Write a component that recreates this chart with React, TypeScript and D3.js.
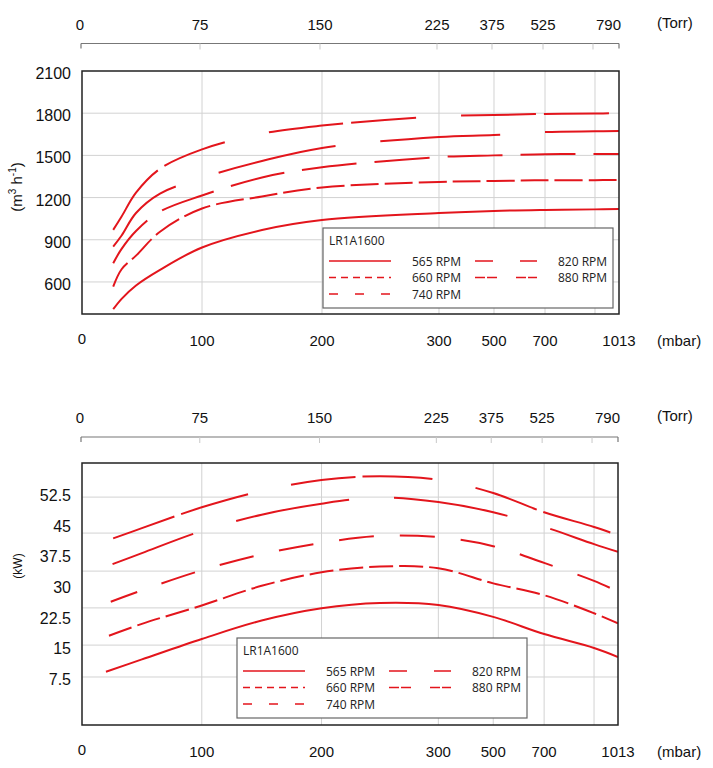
import React from 'react';
import * as d3 from 'd3';

const W = 713;
const H = 768;
const RED = '#e3151c';
const TICK_FONT = '"Liberation Sans", Arial, sans-serif';
const LEGEND_FONT = '"Open Sans", "Noto Sans", sans-serif';

// the pressure axis is compressed above 300 mbar
const mbarBreaks = [0, 100, 200, 300, 500, 700, 900, 1013];
const breakFrac = [0, 0.2235, 0.4469, 0.6648, 0.7672, 0.8622, 0.9553, 1];

const mbarTicks = [0, 100, 200, 300, 500, 700, 1013];
const mbarGrid = [100, 200, 300, 500, 700, 900];
const torrTickMbar = [0, 100, 200, 300, 500, 700, 900];
const torrLabels = [0, 75, 150, 225, 375, 525, 790];

const rpmLabels = ['565 RPM', '660 RPM', '740 RPM', '820 RPM', '880 RPM'];

// pumping speed (m3/h)
const flowMbar = [26, 33, 45, 65, 100, 150, 200, 300, 500, 700, 900, 1013];
const flow565 = [406, 480, 575, 686, 845, 969, 1040, 1090, 1105, 1112, 1116, 1119];
const flow660 = [566, 690, 787, 957, 1122, 1208, 1272, 1311, 1318, 1323, 1324, 1325];
const flow740 = [733, 835, 962, 1100, 1215, 1343, 1415, 1488, 1500, 1508, 1510, 1510];
const flow820 = [851, 930, 1090, 1228, 1340, 1460, 1553, 1631, 1645, 1666, 1671, 1673];
const flow880 = [970, 1065, 1235, 1405, 1543, 1655, 1712, 1778, 1787, 1795, 1798, 1800];
const flowTicks = [600, 900, 1200, 1500, 1800, 2100];
const flowGrid = [600, 900, 1200, 1500, 1800];

// power (kW)
const powerStartMbar = [20, 22.5, 24, 25.5, 26];
const powerMbar = [50, 100, 150, 200, 250, 300, 500, 700, 900, 1013];
const power565 = [8.8, 11.8, 16.8, 21.3, 24.3, 25.6, 25.1, 22.2, 18.0, 14.6, 12.4];
const power660 = [17.6, 20.5, 25.0, 29.8, 33.1, 34.5, 34.1, 30.4, 27.5, 23.1, 20.6];
const power740 = [25.9, 28.7, 33.6, 37.5, 40.3, 42.0, 41.7, 39.5, 35.4, 31.0, 28.4];
const power820 = [35.1, 37.8, 43.2, 47.2, 49.9, 51.4, 50.3, 47.8, 44.2, 40.0, 38.1];
const power880 = [41.4, 43.9, 49.0, 53.0, 55.7, 56.6, 55.7, 52.5, 47.8, 44.2, 42.2];
const powerTicks = [7.5, 15, 22.5, 30, 37.5, 45, 52.5];
const powerGrid = [7.5, 15.3, 24.4, 33.4, 42.7, 51.5];

// dash styles: [565, 660, 740, 820, 880]
const legendDash = [null, '7,5', '9,17', '18,27', '10,2,10,19'];
const flowDash = [null, '28,6', '55,18', '120,45', '75,8,65,45'];
const flowDashOffset = [0, 0, 0, 31, 0];
const powerDash = [null, '24,6', '35,26', '115,45', '65,7,70,44'];
const powerDashOffset = [0, 0, 7, 29, 0];

type Box = { left: number; right: number; top: number; bottom: number; torrY: number };

function Legend({ x, y }: { x: number; y: number }) {
  const rows = [
    { col: 0, row: 0 }, { col: 0, row: 1 }, { col: 0, row: 2 },
    { col: 1, row: 0 }, { col: 1, row: 1 },
  ];
  return (
    <g transform={`translate(${x},${y})`} fontFamily={LEGEND_FONT} fontSize={12} fill="#222">
      <rect width={290} height={80} fill="#fff" stroke="#666" strokeWidth={1.2} />
      <text x={6} y={16.5}>LR1A1600</text>
      {rows.map((r, i) => {
        const lx = 6 + r.col * 146;
        const ly = 33 + r.row * 16.5;
        return (
          <g key={i}>
            <line x1={lx} x2={lx + 62} y1={ly} y2={ly} stroke={RED} strokeWidth={1.6}
              strokeDasharray={legendDash[i] ?? undefined} />
            <text x={lx + 83} y={ly + 4.5}>{rpmLabels[i]}</text>
          </g>
        );
      })}
    </g>
  );
}

function Panel({ box, y, yTicks, yGrid, series, dash, dashOffset, clipId, legendAt, title, titleY, titleSize }: {
  box: Box;
  y: d3.ScaleLinear<number, number>;
  yTicks: number[];
  yGrid: number[];
  series: [number, number][][];
  dash: (string | null)[];
  dashOffset: number[];
  clipId: string;
  legendAt: [number, number];
  title: React.ReactNode;
  titleY: number;
  titleSize: number;
}) {
  const width = box.right - box.left;
  const x = d3.scaleLinear()
    .domain(mbarBreaks)
    .range(breakFrac.map(f => box.left + f * width));
  const line = d3.line<[number, number]>()
    .x(d => x(d[0]))
    .y(d => y(d[1]))
    .curve(d3.curveCatmullRom.alpha(0.5));
  const labelY = box.bottom + 31.5;
  const torrLabelY = box.torrY - 14;

  return (
    <g>
      <defs>
        <clipPath id={clipId}>
          <rect x={box.left} y={box.top} width={width} height={box.bottom - box.top} />
        </clipPath>
      </defs>
      {/* grid */}
      {mbarGrid.map(m => (
        <line key={`gx${m}`} x1={x(m)} x2={x(m)} y1={box.top} y2={box.bottom} stroke="#d2d2d2" strokeWidth={1} />
      ))}
      {yGrid.map(v => (
        <line key={`gy${v}`} x1={box.left} x2={box.right} y1={y(v)} y2={y(v)} stroke="#d2d2d2" strokeWidth={1} />
      ))}
      {/* curves */}
      <g clipPath={`url(#${clipId})`}>
        {series.map((pts, i) => (
          <path key={i} d={line(pts) ?? ''} fill="none" stroke={RED} strokeWidth={2}
            strokeDasharray={dash[i] ?? undefined} strokeDashoffset={dashOffset[i]} />
        ))}
      </g>
      <Legend x={legendAt[0]} y={legendAt[1]} />
      <rect x={box.left} y={box.top} width={width} height={box.bottom - box.top}
        fill="none" stroke="#222" strokeWidth={1.5} />
      {/* y labels */}
      <g fontFamily={TICK_FONT} fontSize={16} fill="#111" textAnchor="end">
        {yTicks.map(v => (
          <text key={v} x={box.left - 11} y={y(v)} dy="0.5em">{v}</text>
        ))}
      </g>
      <text transform={`translate(22,${titleY}) rotate(-90)`}
        fontFamily={TICK_FONT} fontSize={titleSize} fill="#111" textAnchor="middle">{title}</text>
      {/* bottom mbar labels */}
      <g fontFamily={TICK_FONT} fontSize={15} fill="#111" textAnchor="middle">
        {mbarTicks.map(m => (
          <text key={m} x={x(m)} y={m === 0 ? labelY - 2 : labelY}>{m}</text>
        ))}
      </g>
      <text x={657} y={labelY} fontFamily={TICK_FONT} fontSize={15} fill="#111">(mbar)</text>
      {/* top torr axis */}
      <line x1={box.left - 1} x2={x(1013)} y1={box.torrY} y2={box.torrY} stroke="#777" strokeWidth={1.2} />
      {[0, 1013].map(m => (
        <line key={`te${m}`} x1={x(m) - (m === 0 ? 1 : 0)} x2={x(m) - (m === 0 ? 1 : 0)}
          y1={box.torrY} y2={box.torrY + 5} stroke="#777" strokeWidth={1.2} />
      ))}
      {torrTickMbar.slice(1).map(m => (
        <line key={`tt${m}`} x1={x(m) - 2} x2={x(m) - 2} y1={box.torrY} y2={box.torrY + 6}
          stroke="#c8c8c8" strokeWidth={1} />
      ))}
      <g fontFamily={TICK_FONT} fontSize={15} fill="#111">
        {torrLabels.map((t, i) => {
          const last = i === torrLabels.length - 1;
          const m = last ? 1013 : torrTickMbar[i];
          return (
            <text key={t} x={last ? x(m) + 2 : x(m) - 2} y={torrLabelY}
              textAnchor={last ? 'end' : 'middle'}>{t}</text>
          );
        })}
      </g>
      <text x={657} y={torrLabelY - 2} fontFamily={TICK_FONT} fontSize={15} fill="#111">(Torr)</text>
    </g>
  );
}

export default function App() {
  const topBox: Box = { left: 82, right: 619, top: 71, bottom: 314, torrY: 43.5 };
  const botBox: Box = { left: 82, right: 618, top: 463, bottom: 725, torrY: 437 };

  const yFlow = d3.scaleLinear().domain([372, 2100]).range([topBox.bottom, topBox.top]);
  const yPower = d3.scaleLinear().domain([-4.24, 59.84]).range([botBox.bottom, botBox.top]);

  const flowSeries = [flow565, flow660, flow740, flow820, flow880]
    .map(vals => vals.map((v, i) => [flowMbar[i], v] as [number, number]));
  const powerSeries = [power565, power660, power740, power820, power880]
    .map((vals, s) => vals.map((v, i) => [i === 0 ? powerStartMbar[s] : powerMbar[i - 1], v] as [number, number]));

  const flowTitle = (
    <>
      (m<tspan fontSize={10} dy={-6}>3</tspan><tspan dy={6}> h</tspan>
      <tspan fontSize={10} dy={-6}>-1</tspan><tspan dy={6}>)</tspan>
    </>
  );

  return (
    <svg width={W} height={H} viewBox={`0 0 ${W} ${H}`}
      style={{ position: 'absolute', left: 0, top: 0, background: '#fff' }}>
      <rect width={W} height={H} fill="#fff" />
      <Panel box={topBox} y={yFlow} yTicks={flowTicks} yGrid={flowGrid} series={flowSeries}
        dash={flowDash} dashOffset={flowDashOffset} clipId="clipFlow" legendAt={[323, 228]}
        title={flowTitle} titleY={187} titleSize={15} />
      <Panel box={botBox} y={yPower} yTicks={powerTicks} yGrid={powerGrid} series={powerSeries}
        dash={powerDash} dashOffset={powerDashOffset} clipId="clipPower" legendAt={[237, 638]}
        title="(kW)" titleY={566} titleSize={12} />
    </svg>
  );
}
